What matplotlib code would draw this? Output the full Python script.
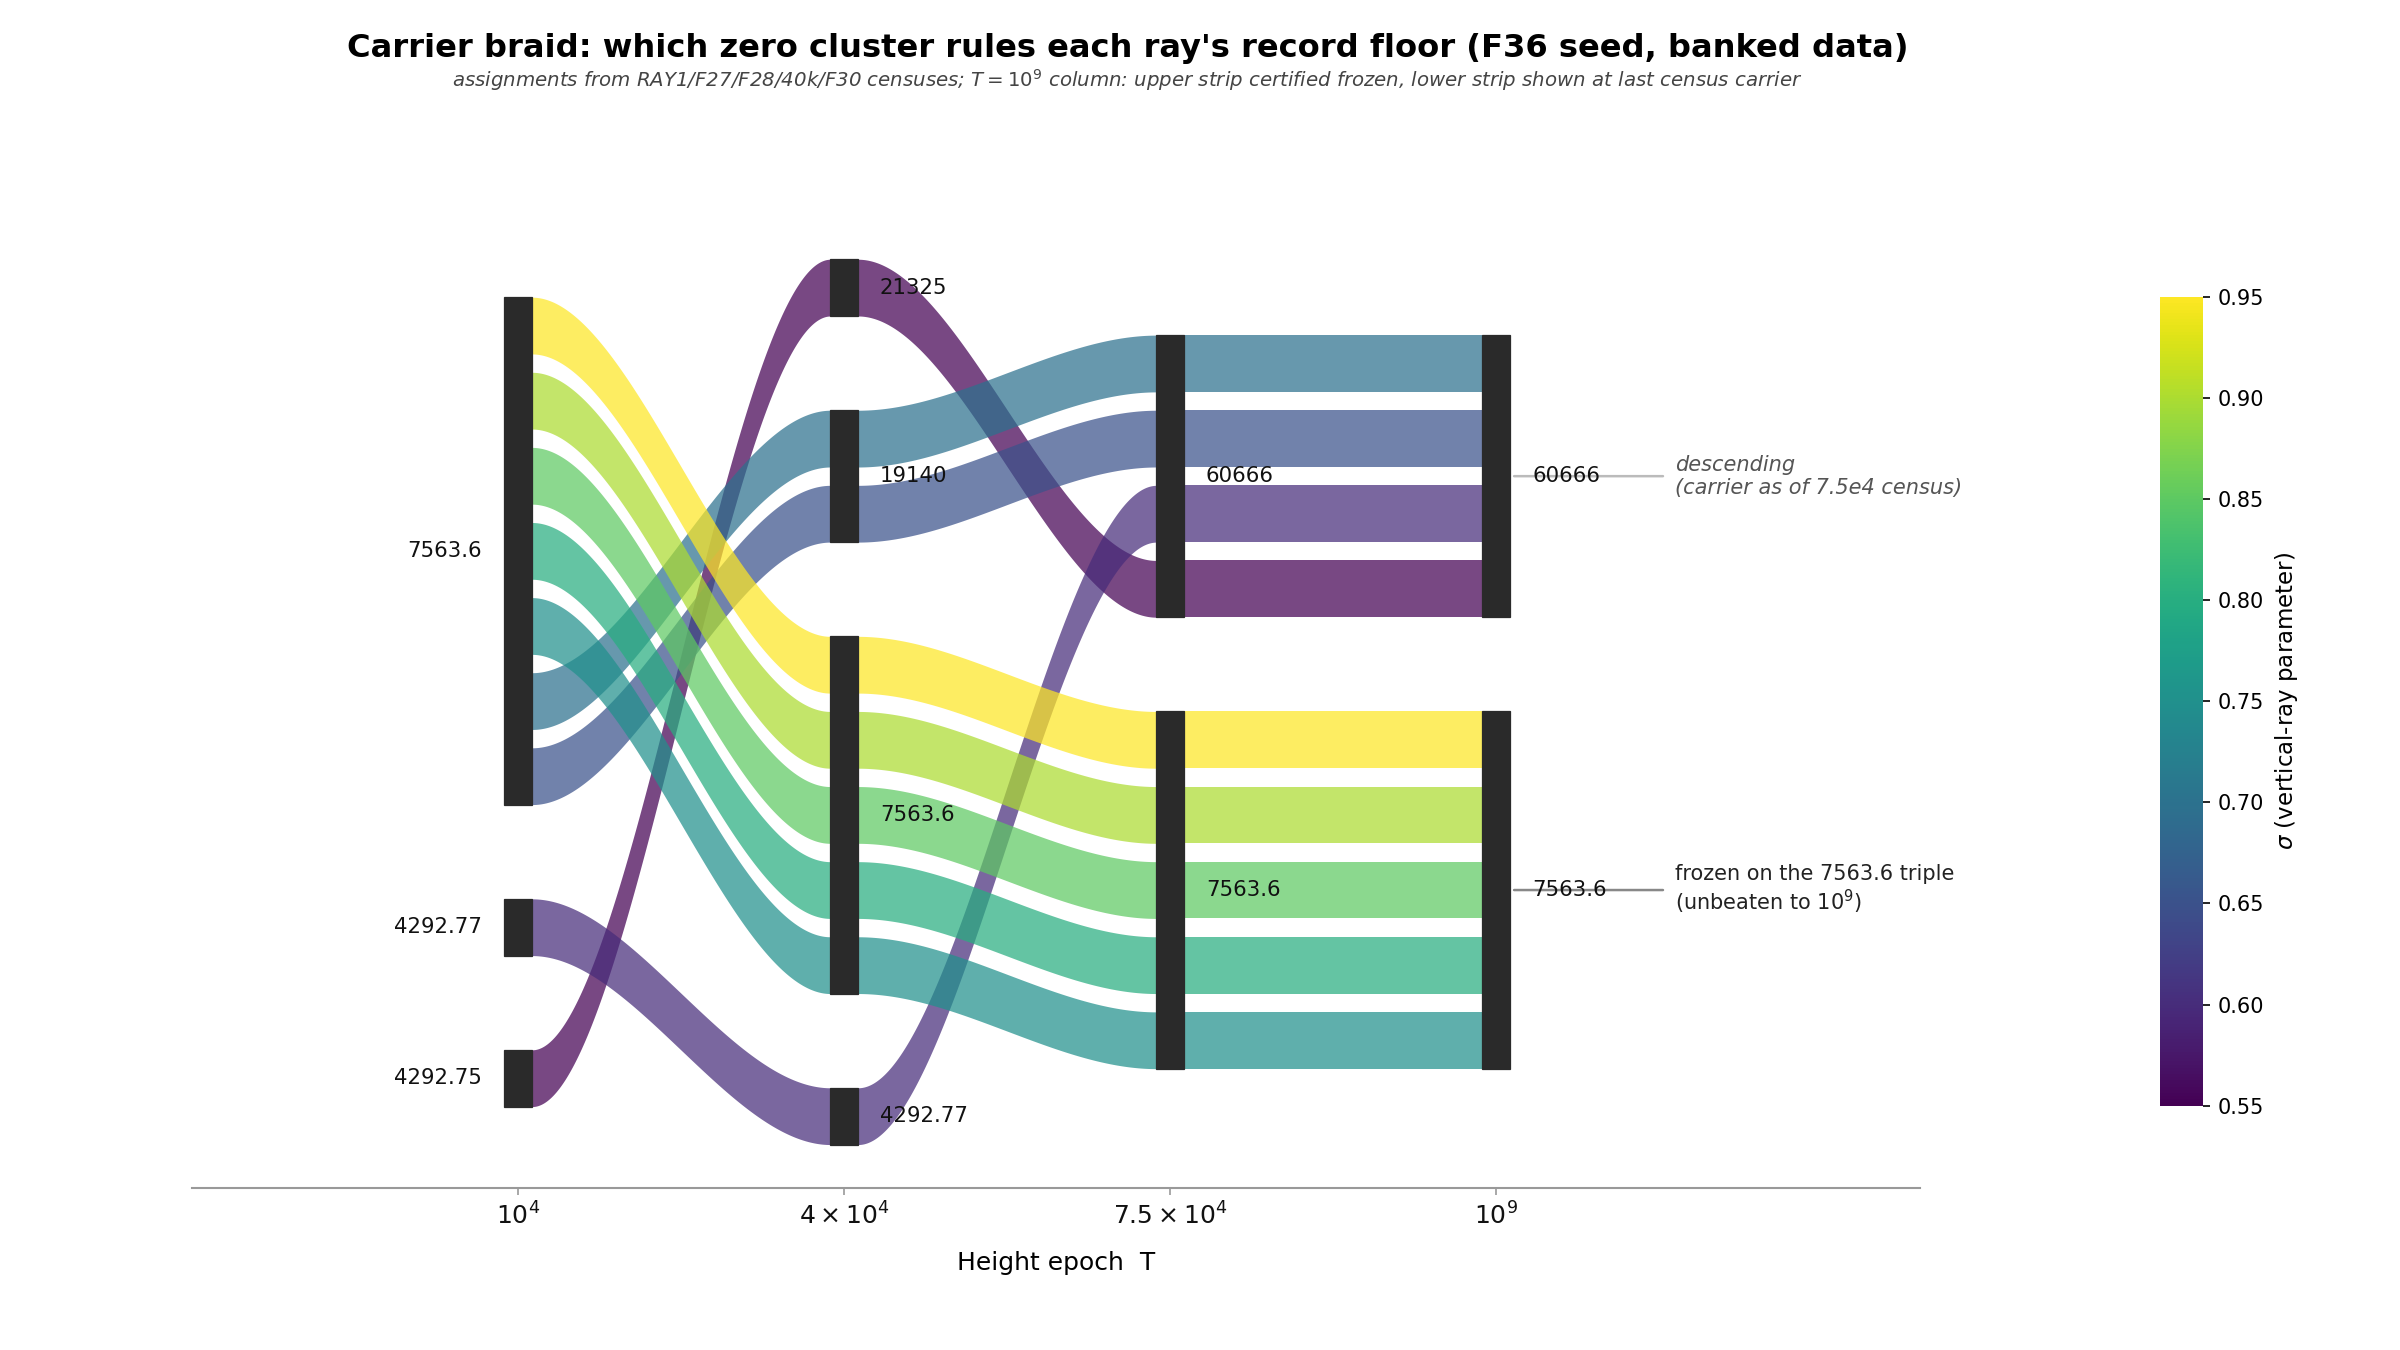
import numpy as np
import matplotlib
matplotlib.use("Agg")
import matplotlib.pyplot as plt
from matplotlib.patches import Rectangle
from matplotlib.colors import Normalize
import matplotlib.cm as cm

# ---------------- data ----------------
epoch_labels = [r'$10^4$', r'$4\times10^4$', r'$7.5\times10^4$', r'$10^9$']
sigmas = [0.55, 0.60, 0.65, 0.70, 0.75, 0.80, 0.85, 0.90, 0.95]
carrier_1e4 = ['4292.75', '4292.77', '7563.6', '7563.6', '7563.6', '7563.6', '7563.6', '7563.6', '7563.6']
carrier_4e4 = ['21325', '4292.77', '19140', '19140', '7563.6', '7563.6', '7563.6', '7563.6', '7563.6']
carrier_75e4 = ['60666', '60666', '60666', '60666', '7563.6', '7563.6', '7563.6', '7563.6', '7563.6']
carrier_1e9 = ['60666', '60666', '60666', '60666', '7563.6', '7563.6', '7563.6', '7563.6', '7563.6']
carriers = [carrier_1e4, carrier_4e4, carrier_75e4, carrier_1e9]

note_upper = "descending\n(carrier as of 7.5e4 census)"
note_lower = "frozen on the 7563.6 triple\n(unbeaten to $10^9$)"

# ---------------- layout params ----------------
BAND = 1.0
GAP = 0.323
NODE_GAP = 1.66
NODE_W = 0.085
LABEL_OFF = 0.11
ALPHA = 0.72

fig = plt.figure(figsize=(16, 9), dpi=150)
ax = fig.add_axes([0.08, 0.12, 0.72, 0.76])
cax = fig.add_axes([0.9, 0.181, 0.018, 0.599])

cmap = matplotlib.colormaps['viridis']
norm = Normalize(vmin=min(sigmas), vmax=max(sigmas))

# compute band positions for each column
band_pos = []
node_pos = []
for col, carr in enumerate(carriers):
    groups = sorted(set(carr), key=lambda c: -float(c))
    heights = []
    for g in groups:
        n = sum(1 for c in carr if c == g)
        heights.append(n * BAND + (n - 1) * GAP)
    total = sum(heights) + NODE_GAP * (len(groups) - 1)
    cur = total / 2.0
    bp = {}
    nodes = []
    for g, h in zip(groups, heights):
        members = [i for i, c in enumerate(carr) if c == g]
        members.sort(key=lambda i: -sigmas[i])
        ntop = cur
        y = cur
        for i in members:
            bp[i] = (y, y - BAND)
            y -= BAND + GAP
        nodes.append((g, ntop, ntop - h))
        cur = ntop - h - NODE_GAP
    band_pos.append(bp)
    node_pos.append(nodes)

# flows
t = np.linspace(0, 1, 200)
s = 3 * t ** 2 - 2 * t ** 3
for col in range(len(carriers) - 1):
    x0 = col + NODE_W / 2
    x1 = col + 1 - NODE_W / 2
    xs = x0 + (x1 - x0) * t
    for i, sg in enumerate(sigmas):
        a_top, a_bot = band_pos[col][i]
        b_top, b_bot = band_pos[col + 1][i]
        top = a_top + (b_top - a_top) * s
        bot = a_bot + (b_bot - a_bot) * s
        ax.fill_between(xs, bot, top, color=cmap(norm(sg)), alpha=ALPHA,
                        linewidth=0, zorder=2)

# nodes and labels
for col, nodes in enumerate(node_pos):
    for g, top, bot in nodes:
        ax.add_patch(Rectangle((col - NODE_W / 2, bot), NODE_W, top - bot,
                               facecolor='#2a2a2a', edgecolor='#2a2a2a',
                               linewidth=0.6, zorder=3))
        yc = (top + bot) / 2
        if col == 0:
            ax.text(col - LABEL_OFF, yc, g, ha='right', va='center',
                    fontsize=10.2, color='#111111', zorder=4)
        else:
            ax.text(col + LABEL_OFF, yc, g, ha='left', va='center',
                    fontsize=10.2, color='#111111', zorder=4)

# annotations on last column
last = len(carriers) - 1
for (g, top, bot) in node_pos[last]:
    yc = (top + bot) / 2
    if g == '60666':
        ax.annotate(note_upper, xy=(last + 0.055, yc), xytext=(last + 0.55, yc),
                    ha='left', va='center', fontsize=10, style='italic',
                    color='#555555',
                    arrowprops=dict(arrowstyle='-', color='#bbbbbb', lw=1.2,
                                    shrinkA=4, shrinkB=0), zorder=3)
    else:
        ax.annotate(note_lower, xy=(last + 0.055, yc), xytext=(last + 0.55, yc),
                    ha='left', va='center', fontsize=10, color='#222222',
                    arrowprops=dict(arrowstyle='-', color='#888888', lw=1.2,
                                    shrinkA=4, shrinkB=0), zorder=3)

ax.set_xlim(-1.0, 4.3)
ax.set_ylim(-8.563, 9.51)
ax.set_xticks(range(len(epoch_labels)))
ax.set_xticklabels(epoch_labels, fontsize=12)
ax.set_yticks([])
for sp in ['left', 'top', 'right']:
    ax.spines[sp].set_visible(False)
ax.spines['bottom'].set_color('#999999')
ax.spines['bottom'].set_linewidth(1.0)
ax.tick_params(axis='x', colors='#999999', length=3.5, labelcolor='#111111', pad=3.5)
ax.set_xlabel('Height epoch  T', fontsize=12, labelpad=10)

sm = cm.ScalarMappable(norm=norm, cmap=cmap)
cb = fig.colorbar(sm, cax=cax)
cb.outline.set_visible(False)
cb.set_ticks([0.55, 0.60, 0.65, 0.70, 0.75, 0.80, 0.85, 0.90, 0.95])
cb.ax.tick_params(labelsize=10)
cb.set_label(r'$\sigma$ (vertical-ray parameter)', fontsize=11)

fig.text(0.4698, 0.964, "Carrier braid: which zero cluster rules each ray's record floor (F36 seed, banked data)",
         ha='center', va='center', fontsize=15.4, fontweight='bold')
fig.text(0.4698, 0.941, "assignments from RAY1/F27/F28/40k/F30 censuses; $T=10^9$ column: upper strip certified frozen, lower strip shown at last census carrier",
         ha='center', va='center', fontsize=9.5, style='italic', color='#444444')

fig.savefig('out.png', dpi=150)
